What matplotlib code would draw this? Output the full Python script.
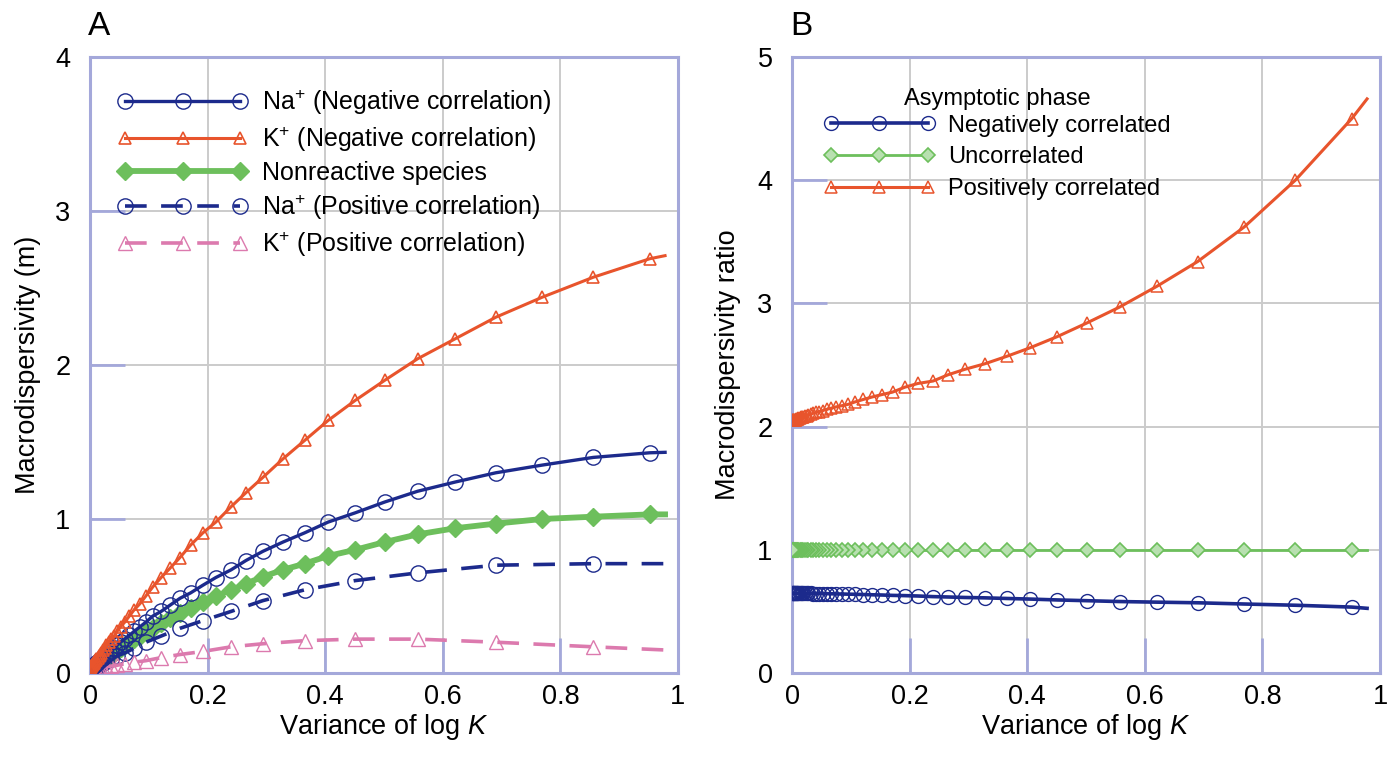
import matplotlib
matplotlib.use("Agg")
import matplotlib.pyplot as plt

plt.rcParams['font.family'] = ['Liberation Sans', 'DejaVu Sans']
plt.rcParams['mathtext.fontset'] = 'custom'
plt.rcParams['mathtext.rm'] = 'Liberation Sans'
plt.rcParams['mathtext.it'] = 'Liberation Sans:italic'

# ---------------- data ----------------
x_grid = [0.978, 0.952, 0.856, 0.769, 0.690, 0.621, 0.557, 0.501, 0.451, 0.405,
          0.365, 0.328, 0.294, 0.265, 0.240, 0.214, 0.192, 0.171, 0.153, 0.136,
          0.121, 0.107, 0.095, 0.085, 0.075, 0.067, 0.059, 0.052, 0.046, 0.041,
          0.036, 0.032, 0.028, 0.025, 0.022, 0.019, 0.017, 0.015, 0.013, 0.011,
          0.010, 0.008, 0.007, 0.006, 0.005, 0.004, 0.003, 0.002, 0.001, 0.0]

k_neg = [2.71, 2.69, 2.57, 2.44, 2.31, 2.17, 2.04, 1.90, 1.77, 1.64,
         1.51, 1.39, 1.27, 1.17, 1.08, 0.98, 0.91, 0.83, 0.75, 0.68,
         0.62, 0.56, 0.50, 0.45, 0.41, 0.37, 0.33, 0.30, 0.27, 0.24,
         0.22, 0.20, 0.18, 0.16, 0.15, 0.13, 0.12, 0.11, 0.10, 0.09,
         0.085, 0.075, 0.07, 0.065, 0.06, 0.055, 0.05, 0.045, 0.04, 0.035]

na_neg = [1.433, 1.43, 1.40, 1.35, 1.30, 1.24, 1.18, 1.11, 1.04, 0.98,
          0.91, 0.85, 0.79, 0.73, 0.67, 0.62, 0.57, 0.52, 0.485, 0.44,
          0.40, 0.37, 0.33, 0.30, 0.27, 0.245, 0.22, 0.20, 0.18, 0.16,
          0.145, 0.13, 0.12, 0.11, 0.10, 0.09, 0.085, 0.08, 0.07, 0.065,
          0.06, 0.055, 0.05, 0.05, 0.045, 0.04, 0.04, 0.035, 0.035, 0.03]

nonreactive = [1.03, 1.03, 1.015, 1.00, 0.97, 0.94, 0.90, 0.85, 0.80, 0.76,
               0.71, 0.67, 0.625, 0.58, 0.54, 0.50, 0.46, 0.42, 0.39, 0.355,
               0.325, 0.295, 0.265, 0.24, 0.22, 0.20, 0.18, 0.16, 0.145, 0.13,
               0.12, 0.11, 0.10, 0.09, 0.085, 0.075, 0.07, 0.065, 0.06, 0.055,
               0.05, 0.045, 0.045, 0.04, 0.04, 0.035, 0.035, 0.03, 0.03, 0.03]

x_pos = [0.975, 0.856, 0.690, 0.557, 0.451, 0.365, 0.294, 0.240, 0.192, 0.153,
         0.121, 0.095, 0.075, 0.059, 0.046, 0.036, 0.028, 0.022, 0.017, 0.013,
         0.010, 0.007, 0.005, 0.003, 0.001, 0.0]

na_pos = [0.71, 0.71, 0.70, 0.65, 0.60, 0.54, 0.47, 0.40, 0.34, 0.29,
          0.24, 0.20, 0.16, 0.13, 0.11, 0.09, 0.075, 0.065, 0.055, 0.045,
          0.04, 0.035, 0.03, 0.03, 0.025, 0.025]

k_pos = [0.15, 0.17, 0.20, 0.22, 0.22, 0.21, 0.19, 0.17, 0.14, 0.12,
         0.10, 0.08, 0.07, 0.06, 0.05, 0.045, 0.04, 0.035, 0.03, 0.03,
         0.025, 0.025, 0.02, 0.02, 0.02, 0.02]

ratio_neg = [0.525, 0.535, 0.55, 0.56, 0.57, 0.575, 0.58, 0.587, 0.593, 0.60,
             0.605, 0.61, 0.613, 0.617, 0.62, 0.625, 0.628, 0.63, 0.633, 0.635,
             0.637, 0.639, 0.64, 0.641, 0.642, 0.643, 0.644, 0.644, 0.645, 0.645,
             0.645, 0.646, 0.646, 0.646, 0.646, 0.646, 0.647, 0.647, 0.647, 0.647,
             0.647, 0.647, 0.647, 0.647, 0.647, 0.647, 0.647, 0.647, 0.647, 0.647]

ratio_unc = [1.0, 1.0, 1.0, 1.0, 1.0, 1.0, 1.0, 1.0, 1.0, 1.0,
             1.0, 1.0, 1.0, 1.0, 1.0, 1.0, 1.0, 1.0, 1.0, 1.0,
             1.0, 1.0, 1.0, 1.0, 1.0, 1.0, 1.0, 1.0, 1.0, 1.0,
             1.0, 1.0, 1.0, 1.0, 1.0, 1.0, 1.0, 1.0, 1.0, 1.0,
             1.0, 1.0, 1.0, 1.0, 1.0, 1.0, 1.0, 1.0, 1.0, 1.0]

ratio_pos = [4.66, 4.50, 4.00, 3.62, 3.34, 3.14, 2.97, 2.84, 2.73, 2.64,
             2.57, 2.51, 2.465, 2.42, 2.37, 2.35, 2.32, 2.28, 2.26, 2.24,
             2.22, 2.20, 2.18, 2.17, 2.16, 2.15, 2.14, 2.13, 2.12, 2.115,
             2.11, 2.10, 2.095, 2.09, 2.085, 2.08, 2.08, 2.075, 2.07, 2.07,
             2.065, 2.06, 2.06, 2.055, 2.055, 2.05, 2.05, 2.05, 2.05, 2.05]

labels_A = ["Na$^{+}$ (Negative correlation)", "K$^{+}$ (Negative correlation)",
            "Nonreactive species", "Na$^{+}$ (Positive correlation)",
            "K$^{+}$ (Positive correlation)"]
labels_B = ["Negatively correlated", "Uncorrelated", "Positively correlated"]

# ---------------- style ----------------
NAVY = '#1C2A8C'
ORANGE = '#E8542C'
GREEN = '#6DBF5C'
PINK = '#DC7AAE'
SPINE = '#A4A8DA'
GRID = '#CBCBCB'

W, H = 1393, 760
fig = plt.figure(figsize=(W / 100, H / 100), dpi=100)
axA = fig.add_axes([90 / W, 87 / H, 588 / W, 616 / H])
axB = fig.add_axes([792 / W, 87 / H, 588 / W, 616 / H])

mk = list(range(1, len(x_grid)))
mk_pos = list(range(1, len(x_pos)))


def style(ax, ymax):
    ax.set_xlim(0, 1)
    ax.set_ylim(0, ymax)
    ax.set_xticks([0, 0.2, 0.4, 0.6, 0.8, 1])
    ax.set_xticklabels(['0', '0.2', '0.4', '0.6', '0.8', '1'])
    ax.set_yticks(list(range(ymax + 1)))
    ax.grid(True, color=GRID, linewidth=1.4, zorder=0)
    ax.set_axisbelow(True)
    for s in ax.spines.values():
        s.set_color(SPINE)
        s.set_linewidth(2.2)
    ax.tick_params(direction='in', length=25, width=2, color=SPINE,
                   labelsize=19.5, pad=8)
    ax.tick_params(axis='y', pad=14)
    ax.set_xlabel("Variance of log $K$", fontsize=19.5, labelpad=1)


# ---------------- panel A ----------------
style(axA, 4)
axA.plot(x_grid, na_neg, color=NAVY, lw=2.4, marker='o', ms=11, mfc='none',
         mec=NAVY, mew=1.0, markevery=mk, label=labels_A[0], zorder=4)
axA.plot(x_grid, k_neg, color=ORANGE, lw=2.2, marker='^', ms=9, mfc='none',
         mec=ORANGE, mew=1.2, markevery=mk, label=labels_A[1], zorder=4)
axA.plot(x_grid, nonreactive, color=GREEN, lw=4.2, marker='D', ms=9, mfc=GREEN,
         mec=GREEN, mew=1.0, markevery=mk, label=labels_A[2], zorder=3)
axA.plot(x_pos, na_pos, color=NAVY, lw=2.6, ls=(0, (6, 4)), marker='o', ms=11,
         mfc='none', mec=NAVY, mew=1.0, markevery=mk_pos, label=labels_A[3], zorder=3)
axA.plot(x_pos, k_pos, color=PINK, lw=2.6, ls=(0, (6, 4)), marker='^', ms=10,
         mfc='none', mec=PINK, mew=1.0, markevery=mk_pos, label=labels_A[4], zorder=3)
axA.set_ylabel("Macrodispersivity (m)", fontsize=19.5, labelpad=10)
legA = axA.legend(loc='upper left', bbox_to_anchor=(0.022, 0.975), frameon=False,
                  fontsize=18, numpoints=3, handlelength=5.2, handletextpad=0.55,
                  labelspacing=0.3, borderaxespad=0.2)
axA.text(-0.003, 1.025, "A", transform=axA.transAxes, fontsize=24, va='bottom', ha='left')

# ---------------- panel B ----------------
style(axB, 5)
axB.plot(x_grid, ratio_neg, color=NAVY, lw=2.6, marker='o', ms=10, mfc='none',
         mec=NAVY, mew=1.0, markevery=mk, label=labels_B[0], zorder=4)
axB.plot(x_grid, ratio_unc, color=GREEN, lw=2.0, marker='D', ms=7, mfc='#B8E0B0',
         mec=GREEN, mew=1.2, markevery=mk, label=labels_B[1], zorder=3)
axB.plot(x_grid, ratio_pos, color=ORANGE, lw=2.2, marker='^', ms=8, mfc='none',
         mec=ORANGE, mew=1.1, markevery=mk, label=labels_B[2], zorder=4)
axB.set_ylabel("Macrodispersivity ratio", fontsize=19.5, labelpad=12)
legB = axB.legend(loc='upper left', bbox_to_anchor=(0.03, 0.972), frameon=False,
                  fontsize=17, numpoints=3, handlelength=4.7, handletextpad=0.55,
                  labelspacing=0.42, borderaxespad=0.2, title="Asymptotic phase",
                  title_fontsize=17)
legB._legend_box.sep = 3
axB.text(-0.003, 1.025, "B", transform=axB.transAxes, fontsize=24, va='bottom', ha='left')

fig.savefig("out.png", dpi=100)
